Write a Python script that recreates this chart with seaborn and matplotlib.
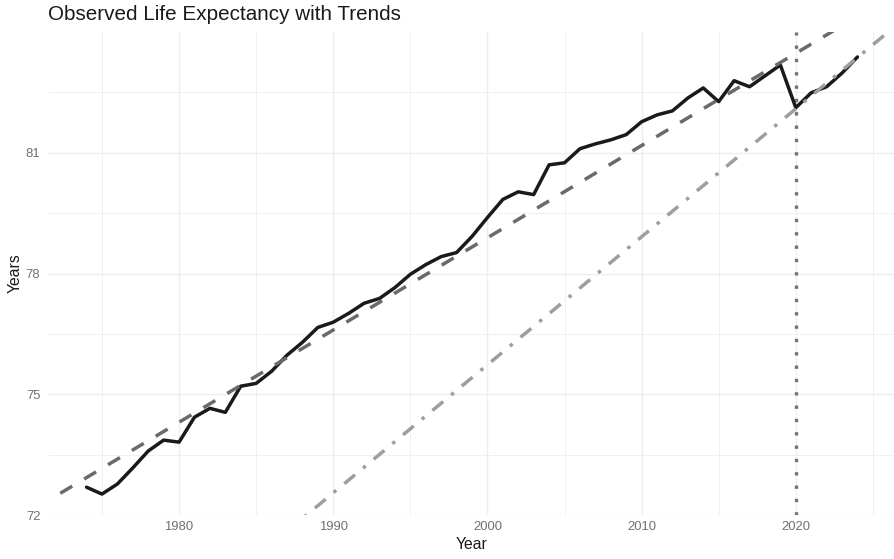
import numpy as np
import pandas as pd
import matplotlib
matplotlib.use("Agg")
import matplotlib.pyplot as plt
import seaborn as sns

# Observed period life expectancy (years)
years = [1974, 1975, 1976, 1977, 1978, 1979, 1980, 1981, 1982, 1983,
         1984, 1985, 1986, 1987, 1988, 1989, 1990, 1991, 1992, 1993,
         1994, 1995, 1996, 1997, 1998, 1999, 2000, 2001, 2002, 2003,
         2004, 2005, 2006, 2007, 2008, 2009, 2010, 2011, 2012, 2013,
         2014, 2015, 2016, 2017, 2018, 2019, 2020, 2021, 2022, 2023,
         2024]
life_exp = [72.69, 72.52, 72.77, 73.17, 73.59, 73.86, 73.81, 74.43, 74.65, 74.55,
            75.20, 75.27, 75.57, 75.97, 76.29, 76.66, 76.79, 77.01, 77.26, 77.38,
            77.65, 77.98, 78.22, 78.42, 78.52, 78.92, 79.39, 79.84, 80.03, 79.96,
            80.70, 80.75, 81.10, 81.22, 81.32, 81.45, 81.77, 81.94, 82.04, 82.36,
            82.61, 82.27, 82.79, 82.64, 82.91, 83.18, 82.12, 82.49, 82.64, 82.98,
            83.38]

# Linear trends: pre-2020 fit and post-2020 fit (endpoints)
pre_trend_years = [1972.3, 2026.5]
pre_trend_vals = [72.54, 84.96]
post_trend_years = [1985.0, 2026.5]
post_trend_vals = [70.96, 84.16]

break_year = 2020

x_ticks = [1980, 1990, 2000, 2010, 2020]
x_minor = [1975, 1985, 1995, 2005, 2015, 2025]
y_ticks = [72, 75, 78, 81]
y_minor = [73.5, 76.5, 79.5, 82.5]

sns.set_theme(style="white")
plt.rcParams["font.family"] = ["Liberation Sans", "DejaVu Sans"]

W, H = 894, 559
fig = plt.figure(figsize=(W / 100, H / 100), dpi=100)
ax = fig.add_axes([48 / W, 1 - 515 / H, (896 - 48) / W, (515 - 32) / H])

obs = pd.DataFrame({"Year": years, "Years": life_exp})
pre = pd.DataFrame({"Year": pre_trend_years, "Years": pre_trend_vals})
post = pd.DataFrame({"Year": post_trend_years, "Years": post_trend_vals})

ax.axvline(break_year, color="#737373", lw=2.4, dashes=(1, 3),
           dash_capstyle="butt", zorder=2)
sns.lineplot(data=obs, x="Year", y="Years", ax=ax, color="#1a1a1a",
             lw=2.5, zorder=3)
sns.lineplot(data=pre, x="Year", y="Years", ax=ax, color="#6a6a6a",
             lw=2.5, dashes=False, zorder=4).lines[-1].set_dashes((4, 4))
sns.lineplot(data=post, x="Year", y="Years", ax=ax, color="#9e9e9e",
             lw=2.5, dashes=False, zorder=4).lines[-1].set_dashes((4, 3, 1, 3))

ax.set_xlim(1971.5, 2026.5)
ax.set_ylim(72, 84)
ax.set_xticks(x_ticks)
ax.set_xticks(x_minor, minor=True)
ax.set_yticks(y_ticks)
ax.set_yticks(y_minor, minor=True)
ax.set_xticklabels([str(v) for v in x_ticks])
ax.set_yticklabels([str(v) for v in y_ticks])

ax.grid(True, which="major", color="#eeeeee", lw=1.0)
ax.grid(True, which="minor", color="#eeeeee", lw=0.6)
ax.set_axisbelow(True)
for s in ax.spines.values():
    s.set_visible(False)

ax.tick_params(axis="both", which="both", length=0, labelsize=9.4,
               labelcolor="#707070")
ax.tick_params(axis="x", pad=4)
ax.tick_params(axis="y", pad=5.5)

ax.set_xlabel("Year", fontsize=11.3, color="#1a1a1a", labelpad=3)
ax.set_ylabel("Years", fontsize=11.3, color="#1a1a1a", labelpad=2)

fig.text(48 / W, 1 - 20 / H, "Observed Life Expectancy with Trends",
         fontsize=14.9, color="#1a1a1a", ha="left", va="baseline")

fig.savefig("out.png", dpi=100)
